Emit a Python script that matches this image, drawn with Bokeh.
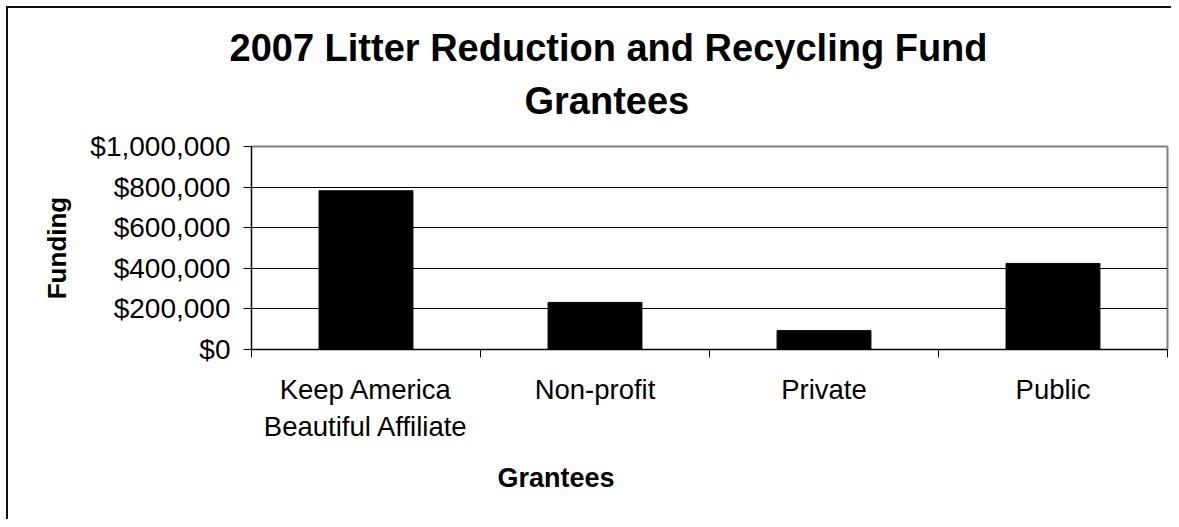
from bokeh.plotting import figure
from bokeh.layouts import column
from bokeh.models import FixedTicker, NumeralTickFormatter, Title, Range1d
from bokeh.embed import file_html
from bokeh.resources import INLINE

categories = ["Keep America\nBeautiful Affiliate", "Non-profit", "Private", "Public"]
funding = [782000, 232000, 93000, 424000]
y_ticks = [0, 200000, 400000, 600000, 800000, 1000000]
title_line1 = "2007 Litter Reduction and Recycling Fund"
title_line2 = "Grantees"
x_label = "Grantees"
y_label = "Funding"

FONT = "Liberation Sans"
n = len(categories)
xpos = [i + 0.5 for i in range(n)]

border_css = ("linear-gradient(#111,#111) 6px 6px / 2px 100% no-repeat, "
              "linear-gradient(#111,#111) 6px 6px / 100% 2px no-repeat")

p = figure(width=1171, height=519, output_backend="svg", toolbar_location=None,
           title=None,
           x_range=Range1d(0, n), y_range=Range1d(0, y_ticks[-1]),
           min_border_left=251, min_border_right=4, min_border_top=146,
           min_border_bottom=170,
           background_fill_color="white", border_fill_color=None)

p.vbar(x=xpos, top=funding, width=0.41, fill_color="black", line_color="black")

p.outline_line_color = "#808080"
p.outline_line_width = 2

# x axis
xa = p.xaxis[0]
xa.ticker = FixedTicker(ticks=xpos, minor_ticks=list(range(n + 1)))
xa.major_label_overrides = {xv: c for xv, c in zip(xpos, categories)}
xa.major_tick_in = 0
xa.major_tick_out = 0
xa.minor_tick_in = 0
xa.minor_tick_out = 8
xa.minor_tick_line_color = "black"
xa.axis_line_color = "black"
xa.major_label_text_font = FONT
xa.major_label_text_font_size = "27.5px"
xa.major_label_text_color = "black"
xa.major_label_standoff = 16

# y axis
ya = p.yaxis[0]
ya.ticker = FixedTicker(ticks=y_ticks)
ya.formatter = NumeralTickFormatter(format="$0,0")
ya.major_tick_in = 0
ya.major_tick_out = 8
ya.minor_tick_in = 0
ya.minor_tick_out = 0
ya.major_tick_line_color = "black"
ya.axis_line_color = "black"
ya.major_label_text_font = FONT
ya.major_label_text_font_size = "28px"
ya.major_label_text_color = "black"
ya.major_label_standoff = 13
ya.axis_label = y_label
ya.axis_label_text_font = FONT
ya.axis_label_text_font_size = "26px"
ya.axis_label_text_font_style = "bold"
ya.axis_label_text_color = "black"
ya.axis_label_standoff = 15

p.xgrid.visible = False
p.ygrid.ticker = FixedTicker(ticks=y_ticks)
p.ygrid.grid_line_color = "black"
p.ygrid.grid_line_width = 1

# chart title, two lines
t2 = Title(text=title_line2, align="left", offset=273, text_font=FONT,
           text_font_size="38px", text_font_style="bold", text_color="black",
           standoff=50)
p.add_layout(t2, "above")
t1 = Title(text=title_line1, align="left", offset=-22, text_font=FONT,
           text_font_size="38px", text_font_style="bold", text_color="black",
           standoff=-32)
p.add_layout(t1, "above")

tx = Title(text=x_label, align="left", offset=246, text_font=FONT,
           text_font_size="27px", text_font_style="bold", text_color="black",
           standoff=33)
p.add_layout(tx, "below")

page = column(p, styles={"background": border_css})

open("out.html", "w").write(file_html(page, INLINE))
